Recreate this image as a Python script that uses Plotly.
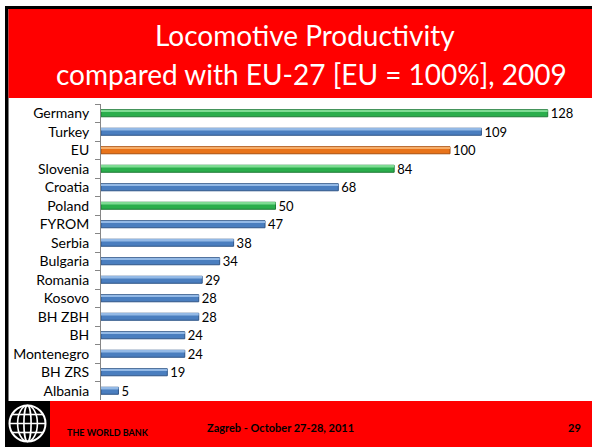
import plotly.graph_objects as go

W, H = 592, 447

countries = ["Germany", "Turkey", "EU", "Slovenia", "Croatia", "Poland", "FYROM", "Serbia",
             "Bulgaria", "Romania", "Kosovo", "BH ZBH", "BH", "Montenegro", "BH ZRS", "Albania"]
values = [128, 109, 100, 84, 68, 50, 47, 38, 34, 29, 28, 28, 24, 24, 19, 5]
groups = ["green", "blue", "orange", "green", "blue", "green", "blue", "blue",
          "blue", "blue", "blue", "blue", "blue", "blue", "blue", "blue"]

title_lines = ["Locomotive Productivity", "compared with EU-27 [EU = 100%], 2009"]
footer_org = "THE WORLD BANK"
footer_event = "Zagreb - October 27-28, 2011"
footer_page = "29"

palette = {"green": "#2AAE4C", "blue": "#4A7EBF", "orange": "#E8731A"}
light = {"green": "#7EDB93", "blue": "#93B9E6", "orange": "#F6AE6A"}
edge = {"green": "#1E7A36", "blue": "#2F5587", "orange": "#A94E0B"}


def px(x):
    return x / W


def py(y):
    return 1 - y / H


FONT = "Lato, Carlito, 'Open Sans', sans-serif"

fig = go.Figure()
fig.add_trace(go.Bar(
    y=countries, x=values, orientation="h",
    marker=dict(color=[palette[g] for g in groups],
                line=dict(color=[edge[g] for g in groups], width=1)),
    text=[str(v) for v in values], textposition="outside", constraintext="none",
    textfont=dict(family=FONT, size=13, color="black"),
    cliponaxis=False, width=0.38, offset=-0.19,
))
# highlight stripe for the glossy look
fig.add_trace(go.Bar(
    y=countries, x=values, orientation="h",
    marker=dict(color=[light[g] for g in groups], line=dict(width=0)),
    width=0.08, offset=-0.15, hoverinfo="skip",
))

shapes = []
# slide border lines
shapes.append(dict(type="rect", xref="paper", yref="paper", x0=px(5), x1=px(592), y0=py(9), y1=py(6),
                   fillcolor="black", line=dict(width=0), layer="below"))
shapes.append(dict(type="rect", xref="paper", yref="paper", x0=px(5), x1=px(8.5), y0=py(401), y1=py(6),
                   fillcolor="black", line=dict(width=0), layer="below"))
# title box
shapes.append(dict(type="rect", xref="paper", yref="paper", x0=px(8.5), x1=px(592), y0=py(98), y1=py(9),
                   fillcolor="#FF0000", line=dict(width=0), layer="below"))
# footer
shapes.append(dict(type="rect", xref="paper", yref="paper", x0=px(5), x1=px(50), y0=0, y1=py(401),
                   fillcolor="black", line=dict(width=0), layer="below"))
shapes.append(dict(type="rect", xref="paper", yref="paper", x0=px(50), x1=1, y0=0, y1=py(401),
                   fillcolor="#FF0000", line=dict(width=0), layer="below"))
# globe logo
cx, cy, r = 27.5, 423.5, 18
wl = dict(color="white", width=2)
shapes.append(dict(type="circle", xref="paper", yref="paper", x0=px(cx - r), x1=px(cx + r),
                   y0=py(cy + r), y1=py(cy - r), line=wl))
for rx in (r * 0.55, r * 0.2):
    shapes.append(dict(type="circle", xref="paper", yref="paper", x0=px(cx - rx), x1=px(cx + rx),
                       y0=py(cy + r), y1=py(cy - r), line=dict(color="white", width=1.6)))
for dy, half in ((0, r), (-9, r * 0.86), (9, r * 0.86)):
    shapes.append(dict(type="line", xref="paper", yref="paper", x0=px(cx - half), x1=px(cx + half),
                       y0=py(cy + dy), y1=py(cy + dy), line=dict(color="white", width=1.6)))

annotations = []
annotations.append(dict(text=title_lines[0], xref="paper", yref="paper", x=px(305), y=py(35),
                        showarrow=False, font=dict(family=FONT, size=28, color="white"),
                        xanchor="center", yanchor="middle"))
annotations.append(dict(text=title_lines[1], xref="paper", yref="paper", x=px(312), y=py(74),
                        showarrow=False, font=dict(family=FONT, size=28, color="white"),
                        xanchor="center", yanchor="middle"))
annotations.append(dict(text="<b>" + footer_org + "</b>", xref="paper", yref="paper", x=px(65), y=py(432),
                        showarrow=False, font=dict(family=FONT, size=9, color="black"),
                        xanchor="left", yanchor="middle"))
annotations.append(dict(text="<b>" + footer_event + "</b>", xref="paper", yref="paper", x=px(205), y=py(427),
                        showarrow=False, font=dict(family=FONT, size=11, color="black"),
                        xanchor="left", yanchor="middle"))
annotations.append(dict(text="<b>" + footer_page + "</b>", xref="paper", yref="paper", x=px(583), y=py(427),
                        showarrow=False, font=dict(family=FONT, size=11, color="black"),
                        xanchor="right", yanchor="middle"))

fig.update_layout(
    width=W, height=H, margin=dict(l=0, r=0, t=0, b=0),
    paper_bgcolor="white", plot_bgcolor="rgba(0,0,0,0)",
    showlegend=False, shapes=shapes, annotations=annotations,
    barmode="overlay",
    xaxis=dict(domain=[px(101), 1], range=[0, (592 - 101) / 3.49], visible=False, fixedrange=True),
    yaxis=dict(domain=[py(400), py(104)], autorange="reversed", type="category",
               showline=True, linecolor="#868686", linewidth=1,
               ticks="outside", tickson="boundaries", ticklen=5, tickcolor="#868686",
               tickfont=dict(family=FONT, size=14, color="black"), ticklabelstandoff=8,
               showgrid=False, zeroline=False),
)

fig.write_html("out.html")
